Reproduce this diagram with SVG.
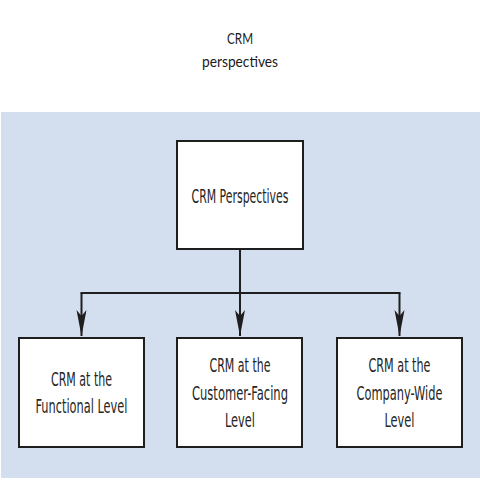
<svg xmlns="http://www.w3.org/2000/svg" width="480" height="480" viewBox="0 0 480 480">
<style>
.title{font-family:Lato,"Open Sans","Liberation Sans",sans-serif;font-size:15px;fill:#1a1a1a;text-anchor:middle}
.box{fill:#ffffff;stroke:#1e1e1e;stroke-width:2}
.lbl{font-family:"Liberation Sans Narrow","DejaVu Sans Condensed","Liberation Sans",Arial,sans-serif;font-size:19.5px;fill:#262626;text-anchor:middle}
.conn{fill:none;stroke:#1e1e1e;stroke-width:2}
</style>
<defs>
<marker id="ah" markerUnits="userSpaceOnUse" markerWidth="26" markerHeight="11" refX="26" refY="5" orient="auto" viewBox="0 0 26 10">
<path d="M0,0 L6,5 L0,10 L26,5 Z" fill="#1e1e1e"/>
</marker>
</defs>
<rect width="480" height="480" fill="#ffffff"/>
<text class="title" x="240" y="44" textLength="26" lengthAdjust="spacingAndGlyphs">CRM</text>
<text class="title" x="240" y="67" textLength="76" lengthAdjust="spacingAndGlyphs">perspectives</text>
<rect x="1" y="112" width="479" height="366" fill="#d3deef"/>
<g id="connectors">
<line class="conn" x1="240" y1="249" x2="240" y2="293"/>
<line class="conn" x1="80.5" y1="293" x2="400.5" y2="293"/>
<path class="conn" d="M81.5,293 V336" marker-end="url(#ah)"/>
<path class="conn" d="M240,293 V336" marker-end="url(#ah)"/>
<path class="conn" d="M399.5,293 V336" marker-end="url(#ah)"/>
</g>
<g id="node-top">
<rect class="box" x="177" y="141" width="126" height="108"/>
<text class="lbl" x="240" y="203" textLength="97" lengthAdjust="spacingAndGlyphs">CRM Perspectives</text>
</g>
<g id="node-functional">
<rect class="box" x="19" y="338" width="125" height="109"/>
<text class="lbl" x="81.5" y="386" textLength="61" lengthAdjust="spacingAndGlyphs">CRM at the</text>
<text class="lbl" x="81.5" y="413" textLength="92" lengthAdjust="spacingAndGlyphs">Functional Level</text>
</g>
<g id="node-customer">
<rect class="box" x="177" y="338" width="125" height="109"/>
<text class="lbl" x="240" y="372" textLength="61" lengthAdjust="spacingAndGlyphs">CRM at the</text>
<text class="lbl" x="240" y="400" textLength="96" lengthAdjust="spacingAndGlyphs">Customer-Facing</text>
<text class="lbl" x="240" y="427" textLength="30" lengthAdjust="spacingAndGlyphs">Level</text>
</g>
<g id="node-company">
<rect class="box" x="337" y="338" width="125" height="109"/>
<text class="lbl" x="399.5" y="372" textLength="62" lengthAdjust="spacingAndGlyphs">CRM at the</text>
<text class="lbl" x="399.5" y="400" textLength="86" lengthAdjust="spacingAndGlyphs">Company-Wide</text>
<text class="lbl" x="399.5" y="427" textLength="30" lengthAdjust="spacingAndGlyphs">Level</text>
</g>
</svg>
